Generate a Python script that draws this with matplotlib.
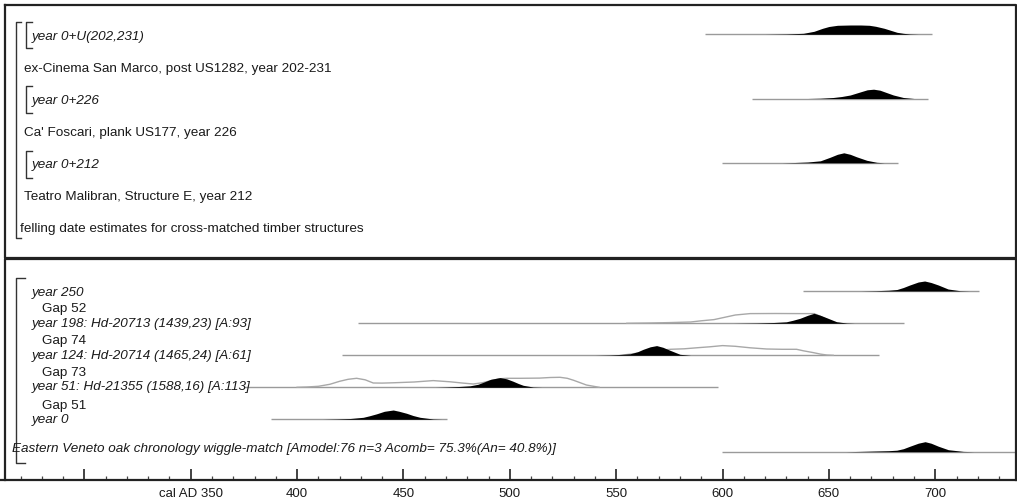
import numpy as np
import matplotlib.pyplot as plt
from matplotlib import transforms

# ---- data (years cal AD, relative probability) ----
# top panel: felling date estimates
top_labels = ['year 0+U(202,231)', 'year 0+226', 'year 0+212']
top_names = ['ex-Cinema San Marco, post US1282, year 202-231',
             "Ca' Foscari, plank US177, year 226",
             'Teatro Malibran, Structure E, year 212']
top_ranges = [(591.7, 698.5), (613.7, 696.7), (599.6, 682.6)]

u202_x = [620, 630, 638, 643, 647, 650, 654, 660, 665, 669, 672, 676, 679, 682, 685, 688, 692]
u202_p = [0, .03, .1, .3, .6, .78, .9, .93, .93, .9, .8, .6, .4, .2, .1, .03, 0]
y226_x = [640, 646, 652, 656, 660, 664.6, 668, 671, 674, 677, 680.3, 685, 690]
y226_p = [0, .03, .1, .2, .35, .65, .87, .93, .83, .6, .35, .1, 0]
y212_x = [628, 634, 640, 646, 650.5, 654, 657, 660, 663, 667.8, 672.5, 676]
y212_p = [0, .03, .08, .2, .55, .85, 1.0, .85, .6, .25, .05, 0]

# bottom panel: wiggle-match sequence
seq_labels = ['year 250', 'year 198: Hd-20713 (1439,23) [A:93]',
              'year 124: Hd-20714 (1465,24) [A:61]',
              'year 51: Hd-21355 (1588,16) [A:113]', 'year 0']
gap_labels = ['Gap 52', 'Gap 74', 'Gap 73', 'Gap 51']
seq_ranges = [(638, 720.7), (428.8, 685.4), (421, 673.5), (375, 597.7), (387.6, 470.6)]

y250_x = [665, 672, 678, 682, 685, 688, 692, 695, 698, 701.4, 706, 711.6, 716]
y250_p = [0, .03, .08, .15, .35, .6, .9, 1.0, .85, .6, .2, .03, 0]
y198_x = [605, 616, 624, 630, 633, 636.4, 640, 643, 646, 649, 653.7, 658.4, 662]
y198_p = [0, .03, .08, .15, .3, .5, .8, 1.0, .8, .55, .15, .03, 0]
y198_lik_x = [555, 566, 575, 585, 590, 596, 601, 606, 613, 625, 636, 643, 646, 649, 652, 655]
y198_lik_p = [0, .03, .07, .13, .25, .37, .6, .83, .97, .98, .97, .97, .7, .4, .1, 0]
y124_x = [540, 547, 552, 556.5, 560, 562.7, 566, 569, 572, 575.3, 580, 585]
y124_p = [0, .03, .08, .15, .35, .6, .85, .97, .8, .5, .1, 0]
y124_lik_x = [552, 558, 564, 570, 575.5, 582, 589, 594, 600, 606, 613, 620.7, 628, 634.8,
              638, 642.6, 646, 649, 652]
y124_lik_p = [0, .15, .35, .5, .6, .65, .77, .85, .97, .9, .75, .63, .6, .6,
              .45, .27, .12, .03, 0]
y51_x = [465, 470.3, 476, 481.3, 485, 487.5, 491, 495.4, 498.5, 501.6, 504, 506.3, 511, 515]
y51_p = [0, .03, .08, .15, .3, .5, .8, .97, .85, .6, .38, .2, .03, 0]
y51_lik_x = [400, 404.5, 410, 415.4, 420, 424, 428, 432, 435.8, 440, 445, 455, 464, 472,
             478, 482.8, 487, 491, 495, 498.5, 505, 514, 519, 523.6, 527, 530, 536, 542]
y51_lik_p = [0, .03, .1, .3, .6, .8, .9, .75, .43, .42, .45, .53, .67, .55,
             .42, .33, .45, .65, .85, .9, .9, .92, .98, 1.0, .9, .7, .23, 0]
y0_x = [412, 418.6, 425, 431.1, 434, 437.4, 441, 445.2, 448, 451.5, 454.5, 457.8, 464, 468]
y0_p = [0, .03, .08, .2, .35, .55, .8, .93, .8, .6, .38, .2, .03, 0]

wm_label = 'Eastern Veneto oak chronology wiggle-match [Amodel:76 n=3 Acomb= 75.3%(An= 40.8%)]'
wm_range = (599.6, 745)
wm_x = [658, 664.6, 672, 678, 681.9, 685, 688.1, 692, 695.2, 698, 701.4, 706.1, 713.2, 718]
wm_p = [0, .03, .07, .1, .15, .3, .55, .85, 1.0, .85, .55, .2, .03, 0]

ticks_major = list(range(300, 701, 50))
tick_labels = ['', 'cal AD 350', '400', '450', '500', '550', '600', '650', '700']

# ---- layout (pixels) ----
W, H = 1017, 504
YR0, PX0, PX_PER_YR = 350, 190.7, 2.1274
ROW_H = 10.0
INK = '#1a1a1a'

plt.rcParams['font.family'] = ['Liberation Sans', 'DejaVu Sans']

fig = plt.figure(figsize=(W / 100, H / 100), dpi=100)
ax = fig.add_axes([0, 0, 1, 1])
ax.set_xlim(YR0 - PX0 / PX_PER_YR, YR0 + (W - PX0) / PX_PER_YR)
ax.set_ylim(H, 0)
pix = transforms.Affine2D().scale(1 / W, -1 / H).translate(0, 1) + ax.transAxes


def dist(x, p, base, rng, lik=None, lik_p=None):
    ax.plot(rng, [base, base], color='#9a9a9a', lw=1.0, solid_capstyle='butt', zorder=1)
    if lik is not None:
        ax.plot(lik, base - np.asarray(lik_p) * ROW_H, color='#a8a8a8', lw=1.0, zorder=2)
    x = np.asarray(x)
    y = base - np.asarray(p) * ROW_H
    ax.fill_between(x, base, y, color='black', lw=0, zorder=3)


fsz = 9.7
# top panel
top_base = [34.3, 98.5, 162.8]
top_text_y = [36.7, 100.7, 165]
name_y = [69, 133.3, 197.3]
top_dists = [(u202_x, u202_p), (y226_x, y226_p), (y212_x, y212_p)]
for i in range(3):
    ax.text(31.5, top_text_y[i], top_labels[i], transform=pix, fontsize=fsz,
            style='italic', va='center', color=INK)
    ax.text(24, name_y[i], top_names[i], transform=pix, fontsize=fsz, va='center', color=INK)
    dist(top_dists[i][0], top_dists[i][1], top_base[i], top_ranges[i])
    b0, b1 = [(21.7, 47.7), (86, 113.3), (150.7, 178.3)][i]
    ax.plot([32, 26, 26, 32], [b0, b0, b1, b1], transform=pix, color='#333', lw=1)
ax.text(20.5, 229, 'felling date estimates for cross-matched timber structures',
        transform=pix, fontsize=fsz, va='center', color=INK)
ax.plot([21, 15.7, 15.7, 21], [21.7, 21.7, 238.3, 238.3], transform=pix, color='#333', lw=1)

# bottom panel
seq_base = [291, 323.3, 355.3, 387.3, 419.3]
seq_text_y = [293.3, 323.8, 355.5, 387, 420]
gap_y = [309, 341, 372.7, 405.7]
seq_dists = [(y250_x, y250_p, None, None), (y198_x, y198_p, y198_lik_x, y198_lik_p),
             (y124_x, y124_p, y124_lik_x, y124_lik_p), (y51_x, y51_p, y51_lik_x, y51_lik_p),
             (y0_x, y0_p, None, None)]
for i in range(5):
    ax.text(31.5, seq_text_y[i], seq_labels[i], transform=pix, fontsize=fsz,
            style='italic', va='center', color=INK)
    d = seq_dists[i]
    dist(d[0], d[1], seq_base[i], seq_ranges[i], d[2], d[3])
for i in range(4):
    ax.text(41.5, gap_y[i], gap_labels[i], transform=pix, fontsize=fsz, va='center', color=INK)
ax.text(11.7, 449.3, wm_label, transform=pix, fontsize=fsz, style='italic', va='center', color=INK)
dist(wm_x, wm_p, 451.7, wm_range)
ax.plot([25, 15.7, 15.7, 25], [278.3, 278.3, 463.3, 463.3], transform=pix, color='#333', lw=1)

# panel frames
ax.plot([5, 1015.5, 1015.5, 5, 5], [5, 5, 258, 258, 5], transform=pix, color='#222', lw=1.6)
ax.plot([5, 5, 1015.5, 1015.5], [480, 258.5, 258.5, 480], transform=pix, color='#222', lw=1.6)

# time axis
for s in ['top', 'left', 'right']:
    ax.spines[s].set_visible(False)
ax.spines['bottom'].set_position(('data', 480))
ax.spines['bottom'].set_linewidth(1.6)
ax.spines['bottom'].set_color('#222')
ax.yaxis.set_visible(False)
ax.set_xticks(ticks_major)
ax.set_xticklabels(tick_labels, family=['Liberation Sans Narrow', 'Liberation Sans'], fontsize=9.5,
                   color=INK)
ax.set_xticks(range(270, 740, 10), minor=True)
ax.tick_params(axis='x', which='major', direction='in', length=8, width=1.2, color='#222', pad=6)
ax.tick_params(axis='x', which='minor', direction='in', length=3, width=0.9, color='#444')

fig.savefig('out.png', dpi=100)
